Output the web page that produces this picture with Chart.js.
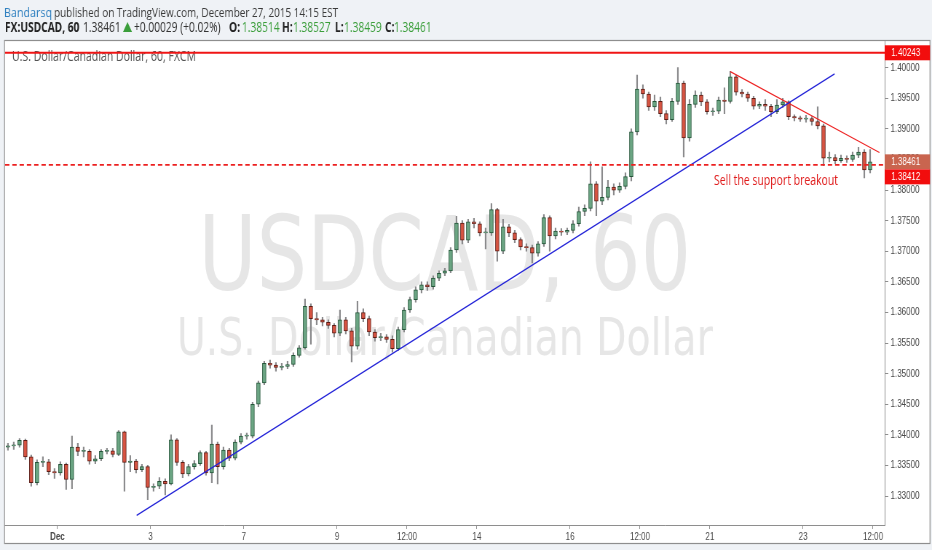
<!DOCTYPE html>
<html>
<head>
<meta charset="utf-8">
<script src="https://cdn.jsdelivr.net/npm/chart.js@4.4.1/dist/chart.umd.min.js"></script>
<style>
  html, body { margin: 0; padding: 0; background: #eff2f6; overflow: hidden; }
</style>
</head>
<body>
<canvas id="c" width="1280" height="550" style="display:block;width:932px;height:550px"></canvas>
<script>
// USDCAD 60 - drawn on a 1280 wide canvas and squeezed to 932px like the screenshot
const R = 932 / 1280;
const X = px => px / R;   // screenshot px -> canvas px

// 3-hour candles, open = previous close
const firstOpen = 1.3380;
const closes = [
  1.3382,1.3383,1.3391,1.3364,1.3322,1.3355,1.3356,1.3340,1.3338,1.3352,
  1.3327,1.3380,1.3373,1.3373,1.3357,1.3361,1.3373,1.3374,1.3368,1.3405,
  1.3355,1.3357,1.3343,1.3348,1.3314,1.3316,1.3324,1.3320,1.3392,1.3355,
  1.3336,1.3348,1.3353,1.3371,1.3338,1.3385,1.3348,1.3375,1.3362,1.3388,
  1.3398,1.3398,1.3450,1.3485,1.3517,1.3514,1.3510,1.3512,1.3515,1.3530,
  1.3542,1.3610,1.3590,1.3588,1.3584,1.3579,1.3566,1.3588,1.3570,1.3545,
  1.3600,1.3590,1.3568,1.3559,1.3560,1.3556,1.3541,1.3572,1.3604,1.3621,
  1.3637,1.3645,1.3642,1.3656,1.3664,1.3668,1.3702,1.3746,1.3718,1.3748,
  1.3745,1.3730,1.3730,1.3768,1.3700,1.3740,1.3730,1.3719,1.3707,1.3706,
  1.3697,1.3712,1.3755,1.3725,1.3733,1.3731,1.3734,1.3745,1.3765,1.3770,
  1.3810,1.3782,1.3788,1.3805,1.3800,1.3806,1.3822,1.3895,1.3965,1.3957,
  1.3936,1.3945,1.3925,1.3915,1.3945,1.3975,1.3885,1.3940,1.3955,1.3944,
  1.3928,1.3929,1.3947,1.3945,1.3985,1.3960,1.3957,1.3950,1.3937,1.3940,
  1.3937,1.3928,1.3939,1.3944,1.3920,1.3918,1.3916,1.3917,1.3912,1.3905,
  1.3852,1.3853,1.3848,1.3852,1.3850,1.3857,1.3862,1.3833,1.38461
];
const highs = [
  1.3386,1.3388,1.3394,1.3393,1.3367,1.3359,1.3364,1.3360,1.3345,1.3356,
  1.3354,1.3398,1.3386,1.3380,1.3376,1.3366,1.3376,1.3378,1.3378,1.3407,
  1.3406,1.3366,1.3360,1.3352,1.3350,1.3320,1.3330,1.3328,1.3400,1.3394,
  1.3358,1.3352,1.3358,1.3374,1.3373,1.3416,1.3388,1.3380,1.3378,1.3392,
  1.3402,1.3403,1.3453,1.3488,1.3520,1.3522,1.3518,1.3517,1.3520,1.3534,
  1.3546,1.3622,1.3614,1.3600,1.3592,1.3588,1.3582,1.3604,1.3592,1.3574,
  1.3618,1.3606,1.3594,1.3572,1.3566,1.3564,1.3562,1.3576,1.3608,1.3625,
  1.3642,1.3650,1.3650,1.3660,1.3668,1.3672,1.3706,1.3757,1.3750,1.3752,
  1.3754,1.3748,1.3738,1.3778,1.3770,1.3752,1.3744,1.3734,1.3722,1.3712,
  1.3710,1.3716,1.3760,1.3758,1.3738,1.3737,1.3738,1.3750,1.3772,1.3776,
  1.3846,1.3814,1.3838,1.3816,1.3810,1.3812,1.3828,1.3900,1.3988,1.3972,
  1.3960,1.3955,1.3952,1.3930,1.3950,1.4000,1.3978,1.3948,1.3962,1.3960,
  1.3948,1.3934,1.3952,1.3967,1.3994,1.3988,1.3964,1.3960,1.3953,1.3944,
  1.3948,1.3940,1.3948,1.3950,1.3946,1.3923,1.3921,1.3922,1.3920,1.3936,
  1.3908,1.3862,1.3858,1.3857,1.3856,1.3862,1.3870,1.3866,1.3866
];
const lows = [
  1.3375,1.3376,1.3380,1.3360,1.3316,1.3318,1.3348,1.3335,1.3329,1.3334,
  1.3311,1.3312,1.3366,1.3364,1.3352,1.3353,1.3358,1.3369,1.3364,1.3366,
  1.3308,1.3340,1.3338,1.3340,1.3294,1.3308,1.3312,1.3302,1.3318,1.3350,
  1.3330,1.3333,1.3344,1.3350,1.3334,1.3322,1.3320,1.3344,1.3358,1.3359,
  1.3385,1.3393,1.3395,1.3446,1.3482,1.3509,1.3504,1.3506,1.3508,1.3512,
  1.3527,1.3540,1.3548,1.3580,1.3578,1.3574,1.3560,1.3562,1.3565,1.3519,
  1.3540,1.3585,1.3562,1.3553,1.3554,1.3551,1.3535,1.3538,1.3568,1.3600,
  1.3617,1.3632,1.3636,1.3638,1.3652,1.3660,1.3665,1.3698,1.3712,1.3714,
  1.3738,1.3725,1.3704,1.3726,1.3684,1.3696,1.3724,1.3714,1.3702,1.3700,
  1.3681,1.3692,1.3708,1.3700,1.3720,1.3726,1.3727,1.3730,1.3741,1.3758,
  1.3766,1.3758,1.3776,1.3784,1.3792,1.3796,1.3802,1.3815,1.3890,1.3950,
  1.3930,1.3930,1.3920,1.3908,1.3912,1.3940,1.3854,1.3880,1.3935,1.3938,
  1.3924,1.3922,1.3925,1.3925,1.3942,1.3955,1.3952,1.3945,1.3932,1.3933,
  1.3930,1.3920,1.3925,1.3935,1.3915,1.3913,1.3912,1.3911,1.3906,1.3900,
  1.3840,1.3846,1.3843,1.3845,1.3845,1.3847,1.3853,1.3820,1.3828
];

const xTickPos = [8.5, 24.5, 40.5, 56.5, 68.5, 80.5, 96.5, 108.5, 120.5, 136.5, 148.5];
const xTickLabels = ['Dec', '3', '7', '9', '12:00', '14', '16', '12:00', '21', '23', '12:00'];
const yTicks = [1.330, 1.335, 1.340, 1.345, 1.350, 1.355, 1.360, 1.365, 1.370, 1.375, 1.380, 1.385, 1.390, 1.395, 1.400];

const resistanceLevel = 1.40243;
const supportLevel = 1.38412;
const lastPrice = 1.38461;
const supportTrend = [{x: 22.1, y: 1.32686}, {x: 141.9, y: 1.39897}];
const resistTrend = [{x: 124.0, y: 1.39935}, {x: 149.6, y: 1.38613}];

const opens = closes.map((c, i) => i === 0 ? firstOpen : closes[i - 1]);
const wickData = closes.map((c, i) => ({x: i, y: [lows[i], highs[i]]}));
const bodyData = closes.map((c, i) => ({x: i, y: [opens[i], c]}));
const isUp = closes.map((c, i) => c >= opens[i]);

const FONT = "'Open Sans', 'Liberation Sans', sans-serif";
const AXFONT = "'Liberation Sans', Arial, sans-serif";

// draw text stretched to a given width (screenshot text is wider than Open Sans)
function fitText(ctx, text, x, y, width) {
  const k = width / ctx.measureText(text).width;
  ctx.save();
  ctx.translate(x, y);
  ctx.scale(k, 1);
  ctx.fillText(text, 0, 0);
  ctx.restore();
}

const frame = {
  id: 'frame',
  beforeDraw(chart) {
    const ctx = chart.ctx;
    ctx.save();
    ctx.fillStyle = '#eff2f6';
    ctx.fillRect(0, 0, chart.width, chart.height);
    ctx.fillStyle = '#ffffff';
    ctx.fillRect(X(4.5), 40, X(930) - X(4.5), 503);
    ctx.strokeStyle = '#8e8e8e';
    ctx.lineWidth = 1.2;
    ctx.strokeRect(X(4.5), 40.5, X(930) - X(4.5), 503);

    // header
    ctx.textBaseline = 'alphabetic';
    ctx.font = '13.5px ' + FONT;
    ctx.fillStyle = '#2f80c0';
    fitText(ctx, 'Bandarsq', X(4), 17, X(48));
    ctx.fillStyle = '#3a3a3a';
    fitText(ctx, 'published on TradingView.com, December 27, 2015 14:15 EST', X(54), 17, X(284));

    const green = '#3a9e3a';
    const parts = [
      ['FX:USDCAD, 60', 5, '#222', 'bold'],
      ['1.38461', 83, '#333', 'normal'],
      ['+0.00029 (+0.02%)', 134, '#333', 'normal'],
      ['O:', 229, '#222', 'bold'], ['1.38514', 242, green, 'normal'],
      ['H:', 282, '#222', 'bold'], ['1.38527', 293, green, 'normal'],
      ['L:', 335, '#222', 'bold'], ['1.38459', 344, green, 'normal'],
      ['C:', 385, '#222', 'bold'], ['1.38461', 394, green, 'normal']
    ];
    parts.forEach(p => {
      ctx.font = p[3] + ' 14px ' + FONT;
      ctx.fillStyle = p[2];
      ctx.fillText(p[0], X(p[1]), 32);
    });
    ctx.fillStyle = green;
    ctx.beginPath();
    ctx.moveTo(X(123), 32);
    ctx.lineTo(X(132), 32);
    ctx.lineTo(X(127.5), 22);
    ctx.closePath();
    ctx.fill();
    ctx.restore();
  },
  beforeDatasetsDraw(chart) {
    const ctx = chart.ctx, a = chart.chartArea;
    ctx.save();
    ctx.beginPath();
    ctx.rect(a.left, a.top, a.right - a.left, a.bottom - a.top);
    ctx.clip();
    const cx = (a.left + a.right) / 2;
    ctx.textAlign = 'center';
    ctx.textBaseline = 'alphabetic';
    ctx.fillStyle = '#e6e6e6';
    // watermark is a touch wider than DejaVu at this height
    ctx.translate(cx, 0);
    ctx.scale(1.06, 1);
    ctx.font = '103px ' + "'DejaVu Sans', sans-serif";
    ctx.fillText('USDCAD, 60', 0, 290);
    ctx.font = '51px ' + "'DejaVu Sans', sans-serif";
    ctx.fillText('U.S. Dollar/Canadian Dollar', 0, 355);
    ctx.restore();

    ctx.save();
    ctx.fillStyle = '#555';
    ctx.font = '14px ' + FONT;
    fitText(ctx, 'U.S. Dollar/Canadian Dollar, 60, FXCM', X(12), 61, X(184));
    ctx.restore();
  },
  afterDraw(chart) {
    const ctx = chart.ctx, y = chart.scales.y, a = chart.chartArea;
    const boxes = [
      {v: resistanceLevel, py: y.getPixelForValue(resistanceLevel), bg: '#f20d0d'},
      {v: lastPrice, py: y.getPixelForValue(lastPrice), bg: '#c9654f'},
      {v: supportLevel, py: y.getPixelForValue(lastPrice) + 15, bg: '#f20d0d'}
    ];
    ctx.save();
    boxes.forEach(b => {
      ctx.fillStyle = b.bg;
      ctx.fillRect(a.right, b.py - 7.5, X(930) - a.right, 15);
      ctx.fillStyle = '#ffffff';
      ctx.font = '11px ' + AXFONT;
      ctx.textBaseline = 'middle';
      ctx.fillText(b.v.toFixed(5), a.right + 9, b.py + 0.5);
    });
    ctx.fillStyle = '#e01b1b';
    ctx.font = '14px ' + FONT;
    ctx.textBaseline = 'middle';
    fitText(ctx, 'Sell the support breakout', X(714), 181, X(124));
    ctx.restore();
  }
};

new Chart(document.getElementById('c'), {
  type: 'bar',
  data: {
    datasets: [
      {
        label: 'wick', data: wickData, grouped: false, order: 3,
        backgroundColor: '#8a8a8c', barThickness: 1.5, minBarLength: 1
      },
      {
        label: 'body', data: bodyData, grouped: false, order: 2,
        backgroundColor: isUp.map(u => u ? '#6ba583' : '#d75442'),
        borderColor: isUp.map(u => u ? '#225437' : '#5b1a13'),
        borderWidth: 1, borderSkipped: false, barThickness: 5, minBarLength: 1
      },
      {
        type: 'line', label: 'resistance', order: 1,
        data: [{x: -0.5, y: resistanceLevel}, {x: 150.5, y: resistanceLevel}],
        borderColor: '#f01515', borderWidth: 2, pointRadius: 0
      },
      {
        type: 'line', label: 'support', order: 1,
        data: [{x: -0.5, y: supportLevel}, {x: 150.5, y: supportLevel}],
        borderColor: '#ec2020', borderWidth: 1.6, borderDash: [6, 4], pointRadius: 0
      },
      {
        type: 'line', label: 'uptrend', order: 1, data: supportTrend,
        borderColor: '#2424d8', borderWidth: 1.4, pointRadius: 0
      },
      {
        type: 'line', label: 'downtrend', order: 1, data: resistTrend,
        borderColor: '#ee2222', borderWidth: 1.2, pointRadius: 0
      }
    ]
  },
  options: {
    responsive: false,
    animation: false,
    devicePixelRatio: 1,
    layout: { padding: { left: X(5), right: 3, top: 40, bottom: 7 } },
    plugins: { legend: { display: false }, tooltip: { enabled: false } },
    scales: {
      x: {
        type: 'linear', min: -0.5, max: 150.5, offset: false,
        afterFit: s => { s.height = 18; },
        afterBuildTicks: s => { s.ticks = xTickPos.map(v => ({value: v})); },
        grid: { offset: false, drawOnChartArea: false, tickLength: 4, color: '#8e8e8e' },
        border: { color: '#8e8e8e' },
        ticks: {
          autoSkip: false, maxRotation: 0, padding: 1, color: '#4a4a4a',
          font: c => ({ family: AXFONT, size: 11, weight: (c.tick && c.tick.label === 'Dec') ? 'bold' : 'normal' }),
          callback: (v, i) => xTickLabels[i]
        }
      },
      y: {
        position: 'right', min: 1.32527, max: 1.40452,
        afterFit: s => { s.width = 62; },
        afterBuildTicks: s => { s.ticks = yTicks.map(v => ({value: v})); },
        grid: { drawOnChartArea: false, tickLength: 5, color: '#8e8e8e' },
        border: { color: '#8e8e8e' },
        ticks: {
          padding: 3, color: '#4a4a4a',
          font: { family: AXFONT, size: 11 },
          callback: v => v.toFixed(5)
        }
      }
    }
  },
  plugins: [frame]
});
</script>
</body>
</html>
